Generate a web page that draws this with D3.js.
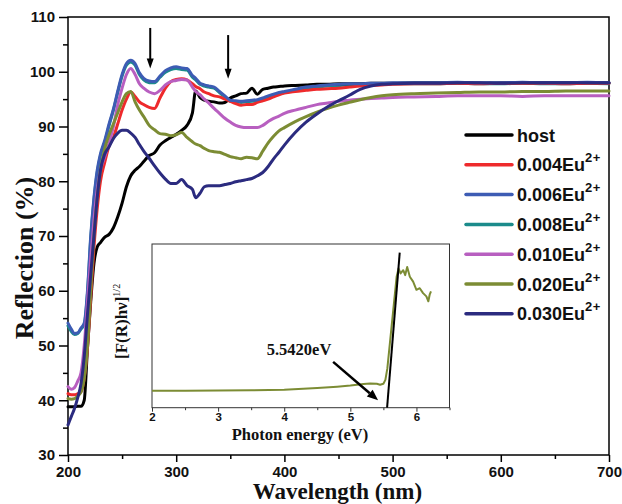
<!DOCTYPE html>
<html>
<head>
<meta charset="utf-8">
<script src="https://cdn.jsdelivr.net/npm/d3@7"></script>
<style>
  html, body { margin: 0; padding: 0; background: #fff; }
  svg { display: block; }
</style>
</head>
<body>
<svg id="chart" width="622" height="504"></svg>
<script>
// ---------------- DATA ----------------
const wavelengths = [200,203,206,209,212,215,218,221,224,227,230,234,238,242,246,250,254,258,262,266,270,275,280,285,290,295,300,305,310,315,318,322,326,330,335,340,345,350,355,360,365,370,375,380,385,390,395,400,410,420,430,440,450,460,470,480,490,500,520,540,560,580,600,620,640,660,680,700];

const hostR = [38.8,38.8,38.8,38.9,38.9,40,49.5,58,65,68, 68.8,69.8,70.3,71.5,73.5,76,79,81,82,82.7, 83.6,84.7,85.2,86.6,87.4,88,88.6,89.3,90.2,92.5, 96.5,95.3,94.8,94.6,94.5,94.3,94.4,95.2,95.6,96, 96.1,97,95.9,96.8,97,97.2,97.3,97.4,97.5,97.6, 97.7,97.7,97.8,97.8,97.8,97.9,97.9,97.9,98,98, 98,97.9,98,98,98,98,98,98];
const eu004R = [41.2,41,41,41.2,41.5,44,49.5,58.7,67.9,75, 80,83.5,86.5,88,90.5,93,95,96.3,95.5,94.5, 94,93.5,93.3,95.2,97,98.2,98.6,98.7,98.5,97.8, 97.3,96.9,96.3,96,95.6,95.4,95,94.6,94.2,93.9, 94,94,94.4,94.7,95,95.4,95.8,96.1,96.4,96.6, 96.8,96.9,97,97.2,97.4,97.5,97.6,97.7,97.8,97.8, 97.9,97.8,97.9,97.9,97.9,97.8,97.9,97.9];
const eu006R = [54.1,53,52.2,52.3,53.2,54.1,60,70,77,82, 85,87.5,90.5,93.2,96.5,99.5,101.5,102.1,101.5,99.8, 98.8,98.3,98.2,99.2,100.2,100.7,100.9,100.7,100.6,99.3, 98.8,97.9,97.6,97.4,97.2,96.4,95.6,94.8,94.7,94.6, 94.7,94.8,94.9,95.2,95.6,95.9,96.2,96.4,96.8,97.2, 97.4,97.6,97.7,97.8,97.8,97.9,97.9,98,98,98, 98.1,98,98,98.1,98,98,98.1,98];
const eu008R = [53.6,52.6,52,52.2,53,53.8,59.5,69.5,76.6,81.6, 84.7,87.2,90.2,93,96.2,99.2,101.2,101.8,101.2,99.5, 98.5,98,98,99,99.9,100.4,100.6,100.4,100.3,99, 98.5,97.7,97.4,97.2,97,96.2,95.4,94.6,94.5,94.4, 94.5,94.6,94.7,95,95.4,95.7,96,96.2,96.6,97, 97.2,97.4,97.5,97.6,97.6,97.7,97.7,97.8,97.8,97.8, 97.9,97.8,97.8,97.9,97.8,97.8,97.9,97.8];
const eu010R = [42.5,42,42.3,43.5,45,50,58,66,73,78.5, 82,84.5,87,90,94,97,99.5,100.6,99.5,97.8, 97,96.3,96,96.6,97.6,98.2,98.4,98.6,98.5,97.2, 96.4,95.8,95,94.3,93.3,92.4,91.5,90.8,90.2,89.9, 89.8,89.8,89.8,90.2,90.9,91.5,91.9,92.4,93,93.5, 94,94.3,94.6,94.8,95,95.1,95.2,95.3,95.4,95.5, 95.6,95.6,95.6,95.5,95.6,95.6,95.6,95.6];
const eu020R = [40.3,40.2,40.3,40.8,41.5,44,50,60,70,77, 82,86,88.5,90.5,92.5,94.5,96,96.4,94.5,93, 91.8,90.2,89.4,88.7,88.6,88.3,88.5,88.9,88,87.2, 86.8,86.5,86,85.6,85.4,85.3,84.9,84.5,84.3,84.1, 84.4,84.3,84.1,85.5,87,88.2,89.2,89.8,90.9,91.8, 92.6,93.3,93.9,94.4,94.9,95.3,95.6,95.8,96,96.1, 96.2,96.3,96.3,96.4,96.4,96.5,96.5,96.5];
const eu030R = [35.5,37,38.5,40.5,43,48,55.7,63,70,77, 82,85,86.3,87.8,88.8,89.3,89.3,88.8,88,86.7, 85.5,84.2,82.8,81.5,80.4,79.6,79.6,80.3,79.2,78.5, 77,77.8,79,79.2,79.2,79.2,79.4,79.6,79.9,80.1, 80.3,80.5,81,81.6,82.7,84.1,85.3,86.6,88.9,90.8, 92.3,93.6,94.7,95.7,96.8,97.4,97.7,97.8,97.9,97.9, 98,98,97.9,98,98,98,98,98];

const seriesNames = ["host","0.004Eu","0.006Eu","0.008Eu","0.010Eu","0.020Eu","0.030Eu"];
const seriesColors = ["#000000","#ee2a2c","#3d5cb4","#1b8b8b","#b85fc0","#7c8c34","#2b2b7f"];
const seriesValues = [hostR, eu004R, eu006R, eu008R, eu010R, eu020R, eu030R];
const drawOrder = [3, 0, 1, 2, 4, 5, 6];

const xTicks = [200,300,400,500,600,700];
const xMinor = [250,350,450,550,650];
const yTicks = [30,40,50,60,70,80,90,100,110];
const yMinor = [35,45,55,65,75,85,95,105];

const arrowMarks = [ {w: 276, from: 108, to: 100.6}, {w: 348, from: 106.7, to: 98.7} ];

// inset (Tauc plot)
const photonEnergy = [2,2.5,3,3.5,4,4.5,4.8,5.0,5.2,5.3,5.4,5.45,5.5,5.53,5.56,5.6,5.65,5.7,5.73,5.76,5.8,5.83,5.86,5.9,5.95,6.0,6.05,6.1,6.15,6.18,6.2,6.22];
const taucValue = [10.4,10.4,10.5,10.6,11,12,12.8,13.5,14.5,14.8,14.6,14,14.6,17,24,40,60,80,85,82,84,81,86,80,77,72,73,70,68,65,69,71];
const insetTicks = [2,3,4,5,6];
const insetMinor = [2.5,3.5,4.5,5.5,6.5];
const tangentLine = [ {e: 5.556, v: 0}, {e: 5.747, v: 94.7} ];
const bandGapLabel = "5.5420eV";
const bandGapArrow = { e1: 4.74, v1: 28, e2: 5.42, v2: 4.5 };

// ---------------- CHART ----------------
const svg = d3.select("#chart");
const L = 68, R = 609, T = 17, B = 455;
const x = d3.scaleLinear().domain([200, 700]).range([L, R]);
const y = d3.scaleLinear().domain([30, 110]).range([B, T]);

const sansBold = "'Liberation Sans', Arial, sans-serif";
const serifBold = "'Liberation Serif', 'Times New Roman', serif";

// axes
const xAxis = svg.append("g").attr("transform", `translate(0,${B})`)
  .call(d3.axisBottom(x).tickValues(xTicks).tickSize(7).tickPadding(4).tickFormat(d3.format("d")));
const xAxisMinor = svg.append("g").attr("transform", `translate(0,${B})`)
  .call(d3.axisBottom(x).tickValues(xMinor).tickSize(4).tickFormat(""));
const yAxis = svg.append("g").attr("transform", `translate(${L},0)`)
  .call(d3.axisLeft(y).tickValues(yTicks).tickSize(9).tickPadding(4).tickFormat(d3.format("d")));
const yAxisMinor = svg.append("g").attr("transform", `translate(${L},0)`)
  .call(d3.axisLeft(y).tickValues(yMinor).tickSize(5).tickFormat(""));
[xAxis, xAxisMinor, yAxis, yAxisMinor].forEach(g => {
  g.select(".domain").remove();
  g.selectAll(".tick line").attr("stroke", "#000").attr("stroke-width", 1.5);
  g.selectAll(".tick text").attr("font-family", sansBold).attr("font-weight", "bold")
    .attr("font-size", 15).attr("fill", "#111");
});

// frame
svg.append("rect").attr("x", L).attr("y", T).attr("width", R - L).attr("height", B - T)
  .attr("fill", "none").attr("stroke", "#000").attr("stroke-width", 1.5);

// lines
const line = d3.line().x((d, i) => x(wavelengths[i])).y(d => y(d)).curve(d3.curveMonotoneX);
const linesG = svg.append("g");
drawOrder.forEach(si => {
  linesG.append("path").datum(seriesValues[si])
    .attr("d", line).attr("fill", "none")
    .attr("stroke", seriesColors[si]).attr("stroke-width", 3)
    .attr("stroke-linejoin", "round").attr("stroke-linecap", "round");
});

// arrows in main plot
arrowMarks.forEach(a => {
  const px = x(a.w), y1 = y(a.from), y2 = y(a.to);
  svg.append("line").attr("x1", px).attr("x2", px).attr("y1", y1).attr("y2", y2 - 8)
    .attr("stroke", "#000").attr("stroke-width", 2);
  svg.append("path").attr("d", `M${px - 3.5},${y2 - 10} L${px + 3.5},${y2 - 10} L${px},${y2} Z`).attr("fill", "#000");
});

// axis titles
svg.append("text").attr("x", (L + R) / 2 - 1).attr("y", 499).attr("text-anchor", "middle")
  .attr("font-family", serifBold).attr("font-weight", "bold").attr("font-size", 23).attr("fill", "#111")
  .text("Wavelength (nm)");
svg.append("text").attr("transform", `translate(33,258) rotate(-90)`).attr("text-anchor", "middle")
  .attr("font-family", serifBold).attr("font-weight", "bold").attr("font-size", 26).attr("fill", "#111")
  .text("Reflection (%)");

// legend
const legend = svg.append("g");
seriesNames.forEach((name, i) => {
  const ly = 135 + i * 29.8;
  legend.append("line").attr("x1", 466).attr("x2", 512).attr("y1", ly).attr("y2", ly)
    .attr("stroke", seriesColors[i]).attr("stroke-width", 3.5).attr("stroke-linecap", "round");
  const t = legend.append("text").attr("x", 517).attr("y", ly + 6.5)
    .attr("font-family", sansBold).attr("font-weight", "bold").attr("font-size", 18).attr("fill", "#111");
  t.append("tspan").text(name);
  if (i > 0) t.append("tspan").attr("font-size", 13).attr("dy", -9).attr("letter-spacing", 0.5).text("2+");
});

// ---------------- INSET ----------------
const iL = 152, iR = 449.5, iT = 244, iB = 407.7;
const ix = d3.scaleLinear().domain([2, 6.5]).range([iL, iR]);
const iy = d3.scaleLinear().domain([0, 100]).range([iB, iT]);
svg.append("rect").attr("x", iL).attr("y", iT).attr("width", iR - iL).attr("height", iB - iT)
  .attr("fill", "#fff").attr("stroke", "#333").attr("stroke-width", 1);
const ixAxis = svg.append("g").attr("transform", `translate(0,${iB})`)
  .call(d3.axisBottom(ix).tickValues(insetTicks).tickSize(4).tickPadding(1).tickFormat(d3.format("d")));
const ixMinor = svg.append("g").attr("transform", `translate(0,${iB})`)
  .call(d3.axisBottom(ix).tickValues(insetMinor).tickSize(2.5).tickFormat(""));
[ixAxis, ixMinor].forEach(g => {
  g.select(".domain").remove();
  g.selectAll(".tick line").attr("stroke", "#333").attr("stroke-width", 1);
  g.selectAll(".tick text").attr("font-family", sansBold).attr("font-weight", "bold")
    .attr("font-size", 11.5).attr("fill", "#111");
});
const iline = d3.line().x((d, i) => ix(photonEnergy[i])).y(d => iy(d));
svg.append("path").datum(taucValue).attr("d", iline).attr("fill", "none")
  .attr("stroke", "#7c8c34").attr("stroke-width", 2).attr("stroke-linejoin", "round");
svg.append("line").attr("x1", ix(tangentLine[0].e)).attr("y1", iy(tangentLine[0].v))
  .attr("x2", ix(tangentLine[1].e)).attr("y2", iy(tangentLine[1].v))
  .attr("stroke", "#000").attr("stroke-width", 2);
// band-gap annotation
svg.append("text").attr("x", 299).attr("y", 355).attr("text-anchor", "middle")
  .attr("font-family", serifBold).attr("font-weight", "bold").attr("font-size", 16.5).attr("fill", "#111")
  .text(bandGapLabel);
{
  const x1 = ix(bandGapArrow.e1), y1 = iy(bandGapArrow.v1), x2 = ix(bandGapArrow.e2), y2 = iy(bandGapArrow.v2);
  const ang = Math.atan2(y2 - y1, x2 - x1), hl = 11, hw = 4.5;
  const bx = x2 - hl * Math.cos(ang), by = y2 - hl * Math.sin(ang);
  svg.append("line").attr("x1", x1).attr("y1", y1).attr("x2", bx).attr("y2", by)
    .attr("stroke", "#000").attr("stroke-width", 2.5);
  svg.append("path").attr("d",
    `M${x2},${y2} L${bx + hw * Math.sin(ang)},${by - hw * Math.cos(ang)} L${bx - hw * Math.sin(ang)},${by + hw * Math.cos(ang)} Z`)
    .attr("fill", "#000");
}
svg.append("text").attr("x", 300).attr("y", 440).attr("text-anchor", "middle")
  .attr("font-family", serifBold).attr("font-weight", "bold").attr("font-size", 16.5).attr("fill", "#111")
  .text("Photon energy (eV)");
{
  const t = svg.append("text").attr("transform", "translate(127,359) rotate(-90)")
    .attr("font-family", serifBold).attr("font-weight", "bold").attr("font-size", 17).attr("fill", "#111");
  t.append("tspan").text("[F(R)hν]");
  t.append("tspan").attr("font-size", 10).attr("font-weight", "normal").attr("dy", -7).text("1/2");
}
</script>
</body>
</html>
